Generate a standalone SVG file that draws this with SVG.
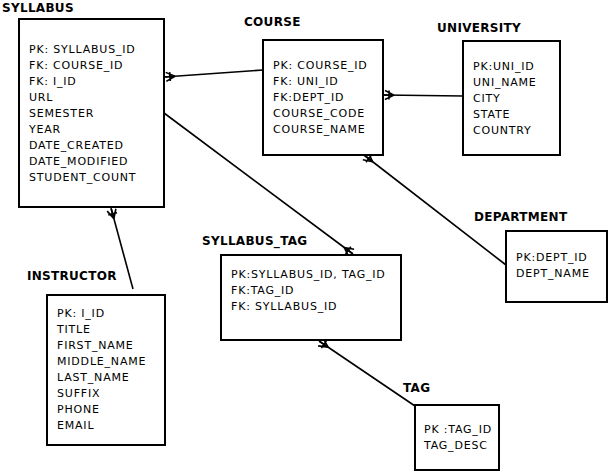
<svg xmlns="http://www.w3.org/2000/svg" width="610" height="475" viewBox="0 0 610 475">
<defs>
<style>
.box{fill:#fff;stroke:#000;stroke-width:2}
.title{font-family:"DejaVu Sans",sans-serif;font-size:12px;font-weight:bold;letter-spacing:0.3px;fill:#000}
.f{font-family:"DejaVu Sans",sans-serif;font-size:11px;letter-spacing:0.8px;fill:#000}
.c{stroke:#000;stroke-width:1.6;fill:none}
</style>
<marker id="crow" markerUnits="userSpaceOnUse" orient="auto" refX="0" refY="0" markerWidth="20" markerHeight="20" viewBox="-15 -10 20 20" overflow="visible">
<path d="M-11,0 L-2,-4.5 M-11,0 L-2,4.5 M-11,0 L-1,0 M-6,-4.5 L-6,4.5" stroke="#000" stroke-width="1.6" fill="none"/>
</marker>
</defs>
<rect width="610" height="475" fill="#fff"/>
<g id="connectors">
<line class="c" x1="263" y1="70" x2="164" y2="77" marker-end="url(#crow)"/>
<line class="c" x1="463" y1="96" x2="383" y2="95" marker-end="url(#crow)"/>
<line class="c" x1="506" y1="265" x2="364" y2="155" marker-end="url(#crow)"/>
<line class="c" x1="133" y1="289" x2="111" y2="208" marker-end="url(#crow)"/>
<line class="c" x1="164" y1="113" x2="353" y2="254" marker-end="url(#crow)"/>
<line class="c" x1="415" y1="406" x2="319" y2="341" marker-end="url(#crow)"/>
</g>
<g id="syllabus">
<text class="title" x="2" y="12">SYLLABUS</text>
<rect class="box" x="19" y="19" width="145" height="188"/>
<text class="f" x="29" y="53">PK: SYLLABUS_ID</text>
<text class="f" x="29" y="69">FK: COURSE_ID</text>
<text class="f" x="29" y="85">FK: I_ID</text>
<text class="f" x="29" y="101">URL</text>
<text class="f" x="29" y="117">SEMESTER</text>
<text class="f" x="29" y="133">YEAR</text>
<text class="f" x="29" y="149">DATE_CREATED</text>
<text class="f" x="29" y="165">DATE_MODIFIED</text>
<text class="f" x="29" y="181">STUDENT_COUNT</text>
</g>
<g id="course">
<text class="title" x="244" y="26">COURSE</text>
<rect class="box" x="263" y="40" width="120" height="115"/>
<text class="f" x="273" y="69">PK: COURSE_ID</text>
<text class="f" x="273" y="85">FK: UNI_ID</text>
<text class="f" x="273" y="101">FK:DEPT_ID</text>
<text class="f" x="273" y="117">COURSE_CODE</text>
<text class="f" x="273" y="133">COURSE_NAME</text>
</g>
<g id="university">
<text class="title" x="437" y="32">UNIVERSITY</text>
<rect class="box" x="463" y="41" width="97" height="114"/>
<text class="f" x="473" y="70">PK:UNI_ID</text>
<text class="f" x="473" y="86">UNI_NAME</text>
<text class="f" x="473" y="102">CITY</text>
<text class="f" x="473" y="118">STATE</text>
<text class="f" x="473" y="134">COUNTRY</text>
</g>
<g id="department">
<text class="title" x="474" y="221">DEPARTMENT</text>
<rect class="box" x="506" y="231" width="101" height="71"/>
<text class="f" x="516" y="261">PK:DEPT_ID</text>
<text class="f" x="516" y="277">DEPT_NAME</text>
</g>
<g id="syllabus_tag">
<text class="title" x="202" y="245">SYLLABUS_TAG</text>
<rect class="box" x="221" y="255" width="180" height="85"/>
<text class="f" x="231" y="278">PK:SYLLABUS_ID, TAG_ID</text>
<text class="f" x="231" y="294">FK:TAG_ID</text>
<text class="f" x="231" y="310">FK: SYLLABUS_ID</text>
</g>
<g id="instructor">
<text class="title" x="27" y="280">INSTRUCTOR</text>
<rect class="box" x="47" y="295" width="118" height="150"/>
<text class="f" x="57" y="317">PK: I_ID</text>
<text class="f" x="57" y="333">TITLE</text>
<text class="f" x="57" y="349">FIRST_NAME</text>
<text class="f" x="57" y="365">MIDDLE_NAME</text>
<text class="f" x="57" y="381">LAST_NAME</text>
<text class="f" x="57" y="397">SUFFIX</text>
<text class="f" x="57" y="413">PHONE</text>
<text class="f" x="57" y="429">EMAIL</text>
</g>
<g id="tag">
<text class="title" x="403" y="392">TAG</text>
<rect class="box" x="415" y="405" width="84" height="65"/>
<text class="f" x="424" y="433">PK :TAG_ID</text>
<text class="f" x="424" y="449">TAG_DESC</text>
</g>
</svg>
